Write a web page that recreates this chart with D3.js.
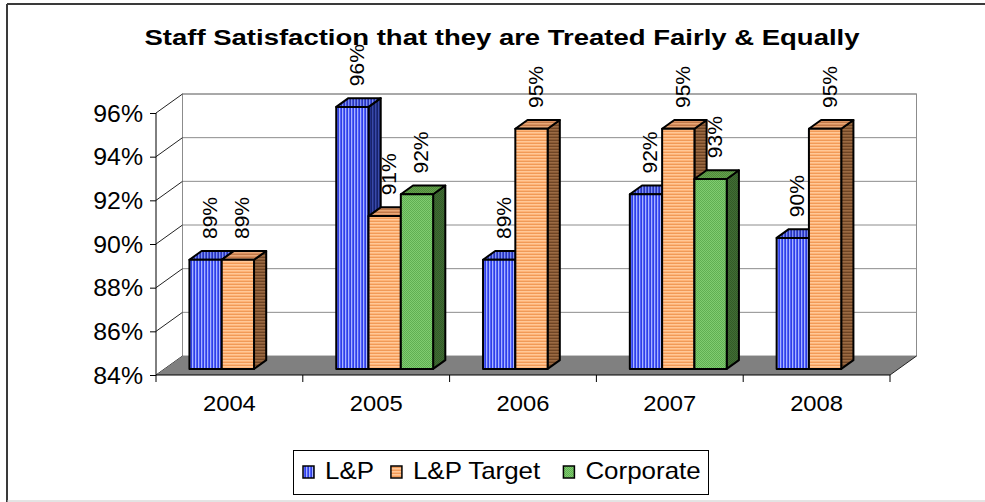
<!DOCTYPE html>
<html>
<head>
<meta charset="utf-8">
<script src="https://cdn.jsdelivr.net/npm/d3@7"></script>
<style>
  body { margin: 0; background: #fff; }
  text { font-family: "Liberation Sans", Arial, sans-serif; fill: #000; }
</style>
</head>
<body>
<div class="chart"></div>
<script>
// data
var years = ["2004", "2005", "2006", "2007", "2008"];
var seriesNames = ["L&P", "L&P Target", "Corporate"];
var lpValues = [89, 96, 89, 92, 90];
var targetValues = [89, 91, 95, 95, 95];
var corporateValues = [null, 92, null, 92.7, null];
var yTicks = [84, 86, 88, 90, 92, 94, 96];

var W = 985, H = 502;
// 3d box: depth offset of the back wall
var DX = 26.5, DY = -19;
// bars sit between these depth fractions
var f0 = 0.32, f1 = 0.78;

var svg = d3.select(".chart")
    .append("svg")
    .attr("width", W)
    .attr("height", H);

// stretch text a bit wider, the source render is slightly wide
function stretch(sel, k) {
    sel.each(function () {
        var l = this.getComputedTextLength();
        d3.select(this).attr("textLength", l * k).attr("lengthAdjust", "spacingAndGlyphs");
    });
}

// patterns for the bar faces
var defs = svg.append("defs");
function stripes(id, base, light, dark, vertical) {
    var p = defs.append("pattern").attr("id", id)
        .attr("patternUnits", "userSpaceOnUse")
        .attr("width", 3).attr("height", 3);
    p.append("rect").attr("width", 3).attr("height", 3).attr("fill", base);
    if (vertical) {
        p.append("rect").attr("x", 0).attr("width", 1).attr("height", 3).attr("fill", light);
        p.append("rect").attr("x", 2).attr("width", 1).attr("height", 3).attr("fill", dark);
    } else {
        p.append("rect").attr("y", 0).attr("width", 3).attr("height", 1).attr("fill", light);
        p.append("rect").attr("y", 2).attr("width", 3).attr("height", 1).attr("fill", dark);
    }
}
function checker(id, a, b) {
    var p = defs.append("pattern").attr("id", id)
        .attr("patternUnits", "userSpaceOnUse")
        .attr("width", 2).attr("height", 2);
    p.append("rect").attr("width", 2).attr("height", 2).attr("fill", a);
    p.append("rect").attr("width", 1).attr("height", 1).attr("fill", b);
    p.append("rect").attr("x", 1).attr("y", 1).attr("width", 1).attr("height", 1).attr("fill", b);
}
stripes("lpFront", "#5060ff", "#a8b4ff", "#3040e0", true);
stripes("lpTop", "#4050e0", "#8090f0", "#2a36b0", true);
stripes("lpSide", "#22308a", "#3a4aa8", "#18226a", true);
stripes("tgFront", "#ffb478", "#ffc898", "#f09a58", false);
stripes("tgTop", "#d89060", "#e8a878", "#c07848", false);
stripes("tgSide", "#8a5a34", "#9a6a44", "#6e4424", false);
checker("coFront", "#80cc70", "#60ae52");
checker("coTop", "#66a24e", "#4e8a3a");
checker("coSide", "#416e34", "#335a28");

var fills = [
    { front: "url(#lpFront)", top: "url(#lpTop)", side: "url(#lpSide)" },
    { front: "url(#tgFront)", top: "url(#tgTop)", side: "url(#tgSide)" },
    { front: "url(#coFront)", top: "url(#coTop)", side: "url(#coSide)" }
];

// outer frame
svg.append("line").attr("x1", 7).attr("y1", 4).attr("x2", W).attr("y2", 4)
    .attr("stroke", "#3a3a3a").attr("stroke-width", 2);
svg.append("line").attr("x1", 7).attr("y1", 4).attr("x2", 7).attr("y2", H)
    .attr("stroke", "#3a3a3a").attr("stroke-width", 2);
svg.append("line").attr("x1", 7).attr("y1", 501).attr("x2", W).attr("y2", 501)
    .attr("stroke", "#c8c8c8").attr("stroke-width", 1);

// title
var title = svg.append("text")
    .attr("x", 502).attr("y", 45)
    .attr("text-anchor", "middle")
    .style("font-size", "22px").style("font-weight", "bold")
    .text("Staff Satisfaction that they are Treated Fairly & Equally");
title.attr("textLength", 715).attr("lengthAdjust", "spacingAndGlyphs");

// scales
var x = d3.scaleBand().domain(years).range([156, 890]);
var y = d3.scaleLinear().domain([84, 96]).range([375, 113]);
var bw = x.bandwidth();
var inner = d3.scaleBand().domain(seriesNames).range([bw * 0.17, bw * 0.83]);

var x0 = x.range()[0], x1 = x.range()[1];

// back wall
svg.append("rect")
    .attr("x", x0 + DX).attr("y", y(96) + DY)
    .attr("width", x1 - x0).attr("height", y(84) - y(96))
    .attr("fill", "#fff").attr("stroke", "#8c8c8c");

// gridlines on back wall and side wall
svg.append("g").selectAll("line.grid")
    .data(yTicks.slice(1))
    .enter().append("line")
    .attr("x1", x0 + DX).attr("x2", x1 + DX)
    .attr("y1", function (d) { return y(d) + DY; })
    .attr("y2", function (d) { return y(d) + DY; })
    .attr("stroke", "#8c8c8c");
svg.append("g").selectAll("line.diag")
    .data(yTicks)
    .enter().append("line")
    .attr("x1", x0).attr("x2", x0 + DX)
    .attr("y1", function (d) { return y(d); })
    .attr("y2", function (d) { return y(d) + DY; })
    .attr("stroke", "#222");

// floor
svg.append("polygon")
    .attr("points", [[x0, y(84)], [x0 + DX, y(84) + DY], [x1 + DX, y(84) + DY], [x1, y(84)]].join(" "))
    .attr("fill", "#808080");
svg.append("line")
    .attr("x1", x1).attr("y1", y(84)).attr("x2", x1 + DX).attr("y2", y(84) + DY)
    .attr("stroke", "#222");

// y axis (front)
var yAxis = d3.axisLeft(y).tickValues(yTicks).tickSize(6)
    .tickFormat(function (d) { return d + "%"; });
var gy = svg.append("g").attr("transform", "translate(" + x0 + ",0)").call(yAxis);
gy.select(".domain").attr("stroke", "#000").attr("d", "M0," + y(96) + "V" + y(84));
gy.selectAll(".tick line").attr("stroke", "#000");
gy.selectAll(".tick text")
    .attr("x", -13).attr("dy", "0.35em")
    .style("font-size", "23px")
    .style("font-family", "'Liberation Sans', Arial, sans-serif");
stretch(gy.selectAll(".tick text"), 1.08);

// x axis
var gx = svg.append("g").attr("transform", "translate(0," + y(84) + ")");
gx.append("line").attr("x1", x0).attr("x2", x1).attr("stroke", "#000");
gx.selectAll("line.tick")
    .data(years.concat(["end"]))
    .enter().append("line")
    .attr("x1", function (d, i) { return x0 + i * bw; })
    .attr("x2", function (d, i) { return x0 + i * bw; })
    .attr("y1", 0).attr("y2", 7)
    .attr("stroke", "#000");
var xl = gx.selectAll("text")
    .data(years)
    .enter().append("text")
    .attr("x", function (d) { return x(d) + bw / 2; })
    .attr("y", 36)
    .attr("text-anchor", "middle")
    .style("font-size", "22px")
    .text(function (d) { return d; });
stretch(xl, 1.08);

// bars
var seriesValues = [lpValues, targetValues, corporateValues];
var bars = [];
years.forEach(function (yr, i) {
    seriesNames.forEach(function (s, j) {
        var v = seriesValues[j][i];
        if (v == null) return;
        bars.push({ year: yr, series: s, idx: j, value: v });
    });
});

var ddx = (f1 - f0) * DX, ddy = (f1 - f0) * DY;
var barW = inner.bandwidth();

var gBars = svg.append("g");
bars.forEach(function (d) {
    var bx = x(d.year) + inner(d.series) + f0 * DX;
    var yb = y(84) + f0 * DY;
    var yt = y(d.value) + f0 * DY;
    var f = fills[d.idx];
    var g = gBars.append("g")
        .attr("stroke", "#000").attr("stroke-width", 2).attr("stroke-linejoin", "round");
    g.append("polygon")
        .attr("points", [[bx + barW, yt], [bx + barW + ddx, yt + ddy], [bx + barW + ddx, yb + ddy], [bx + barW, yb]].join(" "))
        .attr("fill", f.side);
    g.append("polygon")
        .attr("points", [[bx, yt], [bx + ddx, yt + ddy], [bx + barW + ddx, yt + ddy], [bx + barW, yt]].join(" "))
        .attr("fill", f.top);
    g.append("rect")
        .attr("x", bx).attr("y", yt)
        .attr("width", barW).attr("height", yb - yt)
        .attr("fill", f.front);
});

// value labels, rotated
var fmt = function (v) { return Math.round(v) + "%"; };
svg.append("g").selectAll("text")
    .data(bars)
    .enter().append("text")
    .attr("transform", function (d) {
        var cx = x(d.year) + inner(d.series) + f0 * DX + barW / 2 + 4;
        var cy = y(d.value) + f1 * DY - 12;
        return "translate(" + cx + "," + cy + ") rotate(-90)";
    })
    .attr("dominant-baseline", "central")
    .style("font-size", "21px")
    .text(function (d) { return fmt(d.value); });

// legend
var lg = svg.append("g");
lg.append("rect")
    .attr("x", 293.5).attr("y", 450.5)
    .attr("width", 415).attr("height", 44)
    .attr("fill", "#fff").attr("stroke", "#000");
var lx = 303;
var legendFills = ["url(#lpFront)", "url(#tgFront)", "url(#coFront)"];
seriesNames.forEach(function (s, j) {
    lg.append("rect")
        .attr("x", lx).attr("y", 466)
        .attr("width", 11).attr("height", 12)
        .attr("fill", legendFills[j]).attr("stroke", "#000").attr("stroke-width", 1.5);
    var t = lg.append("text")
        .attr("x", lx + 22).attr("y", 479)
        .style("font-size", "24px")
        .text(s);
    stretch(t, 1.08);
    lx = lx + 22 + t.node().getComputedTextLength() * 1.08 + 13;
});
</script>
</body>
</html>
